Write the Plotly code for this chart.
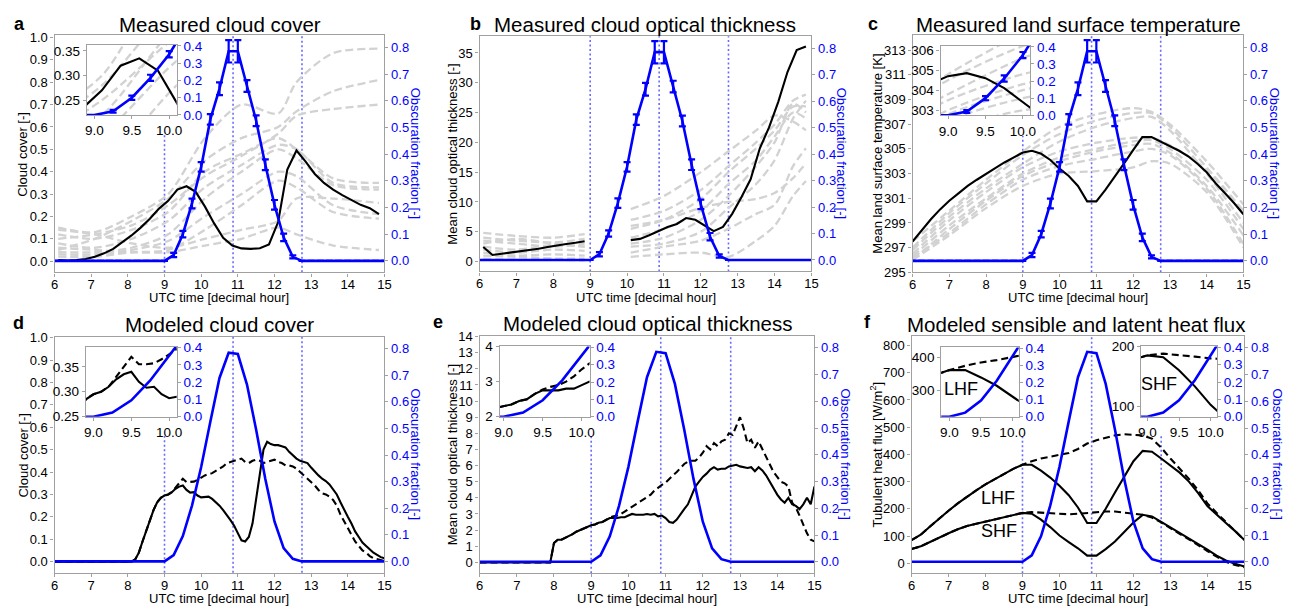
import plotly.graph_objects as go

# ------------------------------------------------------------------ data
eclipse_times = [9.0, 10.87, 12.75]  # first contact, maximum, last contact

obs_time = [6.0, 6.25, 6.5, 6.75, 7.0, 7.25, 7.5, 7.75, 8.0, 8.25, 8.5, 8.75, 9.0,
            9.25, 9.5, 9.75, 10.0, 10.25, 10.5, 10.75, 11.0, 11.25, 11.5, 11.75, 12.0, 12.25, 12.5,
            12.75, 13.0, 13.25, 13.5, 13.75, 14.0, 14.25, 14.5, 14.75, 15.0]
obsc_meas = [0] * 13 + [0.022, 0.1, 0.215, 0.352, 0.53, 0.645, 0.785, 0.785, 0.655, 0.525, 0.36, 0.21, 0.088, 0.015] + [0] * 10
obsc_err = [0] * 13 + [0.008, 0.012, 0.018, 0.018, 0.02, 0.024, 0.042, 0.042, 0.022, 0.02, 0.02, 0.018, 0.014, 0.006] + [0] * 10
obsc_model = [0] * 13 + [0.024, 0.095, 0.21, 0.355, 0.525, 0.69, 0.785, 0.78, 0.665, 0.495, 0.31, 0.15, 0.05, 0.01] + [0] * 10

meas_time = [6.1, 6.35, 6.6, 6.85, 7.1, 7.35, 7.6, 7.85, 8.1, 8.35, 8.6, 8.85,
             9.1, 9.35, 9.6, 9.85, 10.1, 10.35, 10.6, 10.85, 11.1, 11.35, 11.6, 11.85,
             12.1, 12.35, 12.6, 12.85, 13.1, 13.35, 13.6, 13.85, 14.1, 14.35, 14.6, 14.85]
cc_meas = [0.005, 0.003, 0.005, 0.01, 0.02, 0.035, 0.055, 0.085, 0.115, 0.15, 0.19, 0.235,
           0.27, 0.32, 0.335, 0.31, 0.245, 0.17, 0.105, 0.07, 0.057, 0.055, 0.058, 0.075,
           0.175, 0.41, 0.495, 0.445, 0.39, 0.35, 0.32, 0.295, 0.272, 0.252, 0.237, 0.21]
cot_meas = [2.45, 1.1, 1.3, 1.5, 1.7, 1.9, 2.15, 2.45, 2.75, 2.95, 3.15, 3.4,
            None, None, None, None, 3.6, 3.8, 4.4, 5.1, 5.8, 6.3, 7.3, 7.0,
            6.0, 5.1, 5.8, 8.0, 10.8, 13.8, 19.0, 22.5, 26.8, 31.8, 35.5, 36.1]
lst_meas = [297.5, 298.4, 299.3, 300.1, 300.8, 301.4, 302.0, 302.5, 303.0, 303.45, 303.9, 304.3, 304.7,
            304.85, 304.6, 304.1, 303.4, 302.8, 302.0, 300.75, 300.75, 301.7, 302.7, 303.8, 304.9, 305.95, 305.95,
            305.6, 305.25, 304.85, 304.4, 303.8, 303.1, 302.2, 301.4, 300.6, 299.7]

# individual stations / days (grey dashed)
cc_site_time = [6.1, 7.1, 8.1, 9.1, 10.1, 11.1, 12.1, 12.6, 13.6, 14.85]
cc_sites = [
    [0.15, 0.13, 0.20, 0.30, 0.55, 0.70, 0.66, 0.80, 0.93, 0.95],
    [0.05, 0.10, 0.18, 0.28, 0.45, 0.55, 0.60, 0.67, 0.76, 0.81],
    [0.10, 0.12, 0.16, 0.25, 0.38, 0.47, 0.57, 0.65, 0.68, 0.70],
    [0.12, 0.10, 0.14, 0.22, 0.40, 0.48, 0.55, 0.50, 0.37, 0.35],
    [0.08, 0.06, 0.10, 0.18, 0.33, 0.43, 0.52, 0.50, 0.35, 0.33],
    [0.04, 0.04, 0.06, 0.12, 0.28, 0.40, 0.50, 0.46, 0.34, 0.32],
    [0.03, 0.03, 0.05, 0.09, 0.20, 0.30, 0.40, 0.38, 0.25, 0.21],
    [0.02, 0.02, 0.04, 0.05, 0.14, 0.25, 0.36, 0.33, 0.22, 0.19],
    [0.06, 0.05, 0.04, 0.04, 0.07, 0.10, 0.15, 0.12, 0.07, 0.05],
    [0.14, 0.12, 0.08, 0.06, 0.10, 0.14, 0.18, 0.28, 0.28, 0.26],
]
cot_site_time = [6.1, 7.0, 8.0, 8.85, 9.5, 10.1, 11.0, 12.0, 12.75, 13.5, 14.0, 14.5, 14.85]
cot_sites = [
    [4.8, 4.3, 4.0, 4.6, None, 8.8, 11.0, 15.0, 18.5, 22.0, 24.5, 23.5, 22.0],
    [4.0, 3.5, 3.2, 3.8, None, 7.0, 8.5, 12.0, 16.0, 20.0, 23.0, 27.0, 28.0],
    [3.0, 3.8, 3.0, 2.5, None, 5.5, 7.0, 10.5, 15.0, 19.0, 22.0, 26.0, 26.0],
    [2.5, 2.0, 2.8, 2.5, None, 4.0, 5.5, 8.5, 13.0, 17.0, 21.0, 25.0, 24.0],
    [2.0, 1.5, 2.0, 1.8, None, 3.0, 4.0, 7.0, 11.0, 16.0, 20.0, 26.5, 25.0],
    [1.5, 1.0, 1.2, 1.0, None, 2.5, 3.0, 5.0, 9.0, 13.0, 17.0, 24.0, 27.0],
    [1.0, 0.8, 0.5, 0.5, None, 1.5, 2.5, 3.5, 5.5, 8.0, 9.5, 16.0, 19.0],
    [0.5, 0.3, 0.3, 0.2, None, 0.8, 1.2, 1.5, 0.8, 3.5, 6.0, 11.0, 13.5],
    [3.5, 3.0, 2.5, 3.0, None, 6.0, 7.0, 9.0, 10.0, 10.5, 11.5, 14.0, 16.5],
]
lst_site_time = [6.0, 7.0, 8.0, 9.0, 10.0, 11.0, 12.0, 12.5, 13.0, 14.0, 15.0]
lst_sites = [
    [297.5, 300.0, 302.5, 304.8, 306.8, 307.8, 308.3, 308.0, 307.0, 304.0, 300.5],
    [297.0, 299.8, 302.2, 304.5, 306.2, 307.3, 307.9, 307.9, 306.8, 303.5, 300.0],
    [296.8, 299.5, 301.8, 303.8, 305.6, 306.8, 307.5, 307.6, 306.5, 303.0, 299.0],
    [296.5, 299.2, 301.5, 303.5, 304.8, 305.5, 305.9, 305.9, 305.3, 303.3, 299.8],
    [296.3, 298.8, 301.0, 303.0, 304.3, 305.0, 305.6, 305.7, 305.0, 302.5, 298.5],
    [296.0, 298.5, 300.8, 302.8, 304.0, 304.8, 305.3, 305.4, 304.7, 302.0, 298.0],
    [296.2, 298.2, 300.5, 302.5, 303.6, 304.2, 304.8, 305.0, 304.5, 301.8, 297.3],
    [296.0, 298.0, 300.2, 302.0, 303.0, 303.2, 303.5, 304.0, 303.8, 301.5, 297.0],
]

# model output (0.1 h steps)
model_time = [round(6 + 0.1 * i, 1) for i in range(91)]
cc_mod_ecl = [0] * 22 + [0.01, 0.04, 0.09, 0.14, 0.19, 0.23, 0.265, 0.285, 0.295,
    0.30, 0.31, 0.325, 0.335, 0.34, 0.32, 0.308, 0.31, 0.295, 0.287,
    0.29, 0.29, 0.28, 0.265, 0.25, 0.23, 0.21, 0.185, 0.16, 0.125,
    0.095, 0.09, 0.11, 0.17, 0.28, 0.41, 0.5, 0.535, 0.525, 0.52,
    0.52, 0.515, 0.51, 0.49, 0.475, 0.46, 0.45, 0.445, 0.44, 0.42,
    0.4, 0.385, 0.37, 0.36, 0.345, 0.325, 0.3, 0.265, 0.23, 0.2,
    0.17, 0.135, 0.11, 0.085, 0.07, 0.055, 0.04, 0.03, 0.02, 0.015]
cc_mod_ref = [0] * 22 + [0.01, 0.04, 0.09, 0.14, 0.19, 0.23, 0.265, 0.285, 0.295,
    0.30, 0.31, 0.33, 0.35, 0.37, 0.355, 0.355, 0.357, 0.365, 0.375,
    0.385, 0.39, 0.395, 0.405, 0.415, 0.425, 0.44, 0.445, 0.45, 0.455,
    0.46, 0.445, 0.44, 0.45, 0.455, 0.45, 0.44, 0.445, 0.45, 0.455,
    0.445, 0.44, 0.43, 0.43, 0.425, 0.415, 0.4, 0.385, 0.37, 0.355,
    0.34, 0.32, 0.305, 0.3, 0.29, 0.275, 0.25, 0.21, 0.18, 0.15,
    0.12, 0.09, 0.07, 0.05, 0.04, 0.025, 0.015, 0.01, 0.005, 0.003]
cot_mod_ecl = [0] * 20 + [1.2, 1.4, 1.4, 1.5, 1.6, 1.75, 1.9, 2.0, 2.1, 2.25, 2.3,
    2.35, 2.45, 2.5, 2.65, 2.75, 2.75, 2.75, 2.8, 2.8, 2.9,
    3.0, 2.95, 2.95, 2.95, 3.0, 2.95, 3.0, 2.85, 2.9, 2.75,
    2.5, 2.45, 2.65, 3.0, 3.3, 3.6, 4.2, 4.7, 5.0, 5.3,
    5.5, 5.75, 5.9, 5.75, 5.8, 5.8, 5.95, 6.0, 6.05, 5.95,
    5.9, 5.85, 5.9, 5.65, 5.9, 5.7, 5.4, 5.0, 4.6, 4.2,
    3.9, 3.7, 4.0, 3.6, 3.5, 3.3, 3.6, 4.0, 3.6, 4.7]
cot_mod_ref = [0] * 20 + [1.2, 1.4, 1.4, 1.5, 1.6, 1.75, 1.9, 2.0, 2.1, 2.25, 2.3,
    2.35, 2.45, 2.5, 2.65,
    2.78, 2.85, 2.9, 3.0, 3.15, 3.35,
    3.5, 3.65, 3.8, 3.95, 4.05, 4.2, 4.45, 4.65, 4.8, 4.95,
    5.2, 5.4, 5.6, 5.85, 6.1, 6.25, 6.3, 6.3, 6.5, 6.8,
    7.2, 7.0, 7.4, 7.2, 7.5, 7.6, 8.0, 7.9, 8.5, 9.0,
    8.3, 7.4, 7.6, 7.1, 7.5, 7.0, 6.5, 6.0, 5.6, 5.3,
    5.0, 4.9, 4.7, 3.7, 3.4, 2.9, 2.3, 1.8, 1.4, 1.3]
lhf_ecl = [85, 105, 135, 165, 193, 220, 245, 268, 290, 310, 330, 347, 362,
           362, 340, 315, 285, 250, 205, 148, 148, 200, 260, 320, 375, 413, 410,
           385, 360, 333, 300, 258, 210, 178, 148, 118, 85]
lhf_ref = [85, 105, 135, 165, 193, 220, 245, 268, 290, 310, 330, 347, 362,
           375, 385, 392, 400, 405, 420, 440, 452, 462, 470, 474, 472, 470, 458,
           425, 385, 348, 310, 268, 220, 185, 150, 118, 85]
shf_ecl = [52, 62, 78, 95, 110, 125, 137, 145, 153, 162, 170, 178, 185,
           182, 160, 133, 102, 78, 55, 28, 28, 52, 80, 115, 150, 178, 172,
           152, 132, 112, 93, 72, 50, 28, 10, -2, -12]
shf_ref = [52, 62, 78, 95, 110, 125, 137, 145, 153, 162, 170, 178, 185,
           188, 186, 183, 180, 180, 182, 185, 188, 190, 190, 187, 182, 178, 168,
           150, 128, 108, 88, 68, 45, 24, 5, -6, -15]

for arr in (obsc_meas, obsc_err, obsc_model, lst_meas, lhf_ecl, lhf_ref, shf_ecl, shf_ref):
    assert len(arr) == len(obs_time), len(arr)
for arr in (cc_meas, cot_meas):
    assert len(arr) == len(meas_time)
for arr in (cc_mod_ecl, cc_mod_ref, cot_mod_ecl, cot_mod_ref):
    assert len(arr) == len(model_time), len(arr)

# ------------------------------------------------------------------ style
W, H = 1295, 614
FONT = "Liberation Sans, Arial, sans-serif"
SPINE = "#a0a0a0"
BLUE = "#0000ff"
VCOL = "#6a6aff"
GRAY = "#d2d2d2"
RIGHT_RANGE = [-0.043, 0.845]
INSET_RIGHT = [0, 0.405]
XTITLE_Y = {0: 297.5, 1: 606.5}  # pixel row of the x-axis titles (top / bottom row)

fig = go.Figure()
lay = dict(width=W, height=H, margin=dict(l=0, r=0, t=0, b=0),
           paper_bgcolor="white", plot_bgcolor="white", showlegend=False,
           font=dict(family=FONT, color="black"))
annotations = []
shapes = []


def xd(a, b):
    return [a / W, b / W]


def yd(top, bot):
    return [1 - bot / H, 1 - top / H]


def axn(p, n):
    return f"{p}axis" if n == 1 else f"{p}axis{n}"


def ref(p, n):
    return p if n == 1 else f"{p}{n}"


def base_axis(fs=13, color="black", **kw):
    d = dict(showline=True, linecolor=SPINE, linewidth=1.3, ticks="outside", ticklen=3,
             tickwidth=1.2, tickcolor=SPINE, showgrid=False, zeroline=False,
             tickfont=dict(size=fs, color=color, family=FONT), fixedrange=True)
    d.update(kw)
    return d


def gray_lines(xs, sets, xa, ya):
    for s in sets:
        fig.add_trace(go.Scatter(x=xs, y=s, mode="lines", xaxis=xa, yaxis=ya,
                                 line=dict(color=GRAY, width=2.3, dash="8px,4px", shape="spline", smoothing=0.8),
                                 connectgaps=False, hoverinfo="skip"))


def black(xs, ys, xa, ya, dashed=False):
    fig.add_trace(go.Scatter(x=xs, y=ys, mode="lines", xaxis=xa, yaxis=ya,
                             line=dict(color="black", width=2.1, dash="7px,4px" if dashed else "solid"),
                             connectgaps=False, hoverinfo="skip"))


def blue(xa, ya, measured):
    if measured:
        fig.add_trace(go.Scatter(x=obs_time, y=obsc_meas, mode="lines", xaxis=xa, yaxis=ya,
                                 line=dict(color=BLUE, width=2.6),
                                 error_y=dict(type="data", array=obsc_err, color=BLUE, thickness=2.2, width=3.5),
                                 hoverinfo="skip"))
    else:
        fig.add_trace(go.Scatter(x=obs_time, y=obsc_model, mode="lines", xaxis=xa, yaxis=ya,
                                 line=dict(color=BLUE, width=2.6), hoverinfo="skip"))


def vlines(xa, ya, tops):
    for t, top in zip(eclipse_times, tops):
        shapes.append(dict(type="line", xref=xa, yref=f"{ya} domain", x0=t, x1=t, y0=0, y1=top,
                           layer="below", line=dict(color=VCOL, width=1.6, dash="2px,2.5px")))


# ------------------------------------------------------------------ main panels
panels = [
    dict(letter="a", title="Measured cloud cover", box=(50, 383, 29, 272),
         yr=[-0.05, 1.01], tick0=0, dtick=0.1, fmt=".1f", ytitle="Cloud cover [-]",
         lt=(15, 17), tx=217, ty=18, ylx=18, yrx=414, measured=True, vtop=[0.58, 1, 1]),
    dict(letter="b", title="Measured cloud optical thickness", box=(479, 814, 30, 271),
         yr=[-1.65, 37.8], tick0=0, dtick=5, fmt="d", ytitle="Mean cloud optical thickness [-]",
         lt=(475, 17), tx=646, ty=18, ylx=452, yrx=844, measured=True, vtop=[1, 1, 1]),
    dict(letter="c", title="Measured land surface temperature", box=(916, 1250, 29, 272),
         yr=[295, 314.2], tick0=295, dtick=2, fmt="d", ytitle="Mean land surface temperature [K]",
         lt=(876, 17), tx=1084, ty=18, ylx=881, yrx=1281, measured=True, vtop=[0.575, 1, 1]),
    dict(letter="d", title="Modeled cloud cover", box=(50, 383, 338, 580),
         yr=[-0.05, 1.004], tick0=0, dtick=0.1, fmt=".1f", ytitle="Cloud cover [-]",
         lt=(14, 324), tx=217, ty=325, ylx=19, yrx=414, measured=False, vtop=[0.58, 1, 1]),
    dict(letter="e", title="Modeled cloud optical thickness", box=(479, 817, 337, 580.5),
         yr=[-0.68, 14.05], tick0=0, dtick=1, fmt="d", ytitle="Mean cloud optical thickness [-]",
         lt=(437, 323), tx=649, ty=324, ylx=452, yrx=848, measured=False, vtop=[0.58, 1, 1]),
    dict(letter="f", title="Modeled sensible and latent heat flux", box=(915, 1251, 337, 580.5),
         yr=[-37, 836], tick0=0, dtick=100, fmt="d", ytitle="Tubulent heat flux [W/m<sup>2</sup>]",
         lt=(871, 323), tx=1082, ty=325, ylx=879, yrx=1284, measured=False, vtop=[0.58, 1, 0.58]),
]

for i, p in enumerate(panels):
    xn, yl, yrn = i + 1, 2 * i + 1, 2 * i + 2
    xa, ya, ya2 = ref("x", xn), ref("y", yl), ref("y", yrn)
    x0, x1, top, bot = p["box"]
    lay[axn("x", xn)] = base_axis(domain=xd(x0, x1), range=[6, 15], anchor=ya, mirror=True,
                                  tickmode="linear", tick0=6, dtick=1, ticklabelstandoff=-3)
    lay[axn("y", yl)] = base_axis(domain=yd(top, bot), range=p["yr"], anchor=xa, mirror=True,
                                  tickmode="linear", tick0=p["tick0"], dtick=p["dtick"], tickformat=p["fmt"])
    lay[axn("y", yrn)] = base_axis(color=BLUE, overlaying=ya, side="right", anchor=xa, range=RIGHT_RANGE,
                                   showline=False, tickmode="linear", tick0=0, dtick=0.1, tickformat=".1f")

    vlines(xa, ya, p["vtop"])
    if p["letter"] == "a":
        gray_lines(cc_site_time, cc_sites, xa, ya)
        black(meas_time, cc_meas, xa, ya)
    elif p["letter"] == "b":
        gray_lines(cot_site_time, cot_sites, xa, ya)
        black(meas_time, cot_meas, xa, ya)
    elif p["letter"] == "c":
        gray_lines(lst_site_time, lst_sites, xa, ya)
        black(obs_time, lst_meas, xa, ya)
    elif p["letter"] == "d":
        black(model_time, cc_mod_ref, xa, ya, dashed=True)
        black(model_time, cc_mod_ecl, xa, ya)
    elif p["letter"] == "e":
        black(model_time, cot_mod_ref, xa, ya, dashed=True)
        black(model_time, cot_mod_ecl, xa, ya)
    else:
        black(obs_time, lhf_ref, xa, ya, dashed=True)
        black(obs_time, shf_ref, xa, ya, dashed=True)
        black(obs_time, lhf_ecl, xa, ya)
        black(obs_time, shf_ecl, xa, ya)
        annotations.append(dict(x=8.33, y=239, xref=xa, yref=ya, text="LHF", showarrow=False,
                                font=dict(size=18, color="black")))
        annotations.append(dict(x=8.36, y=118, xref=xa, yref=ya, text="SHF", showarrow=False,
                                font=dict(size=18, color="black")))
    blue(xa, ya2, p["measured"])

    cy = (top + bot) / 2
    annotations += [
        dict(x=p["lt"][0] / W, y=1 - p["lt"][1] / H, xref="paper", yref="paper", text=f"<b>{p['letter']}</b>",
             showarrow=False, xanchor="center", yanchor="middle", font=dict(size=18, color="black")),
        dict(x=p["tx"] / W, y=1 - p["ty"] / H, xref="paper", yref="paper", text=p["title"],
             showarrow=False, xanchor="center", yanchor="middle", font=dict(size=20.5, color="black")),
        dict(x=(x0 + x1) / 2 / W, y=1 - XTITLE_Y[i // 3] / H, xref="paper", yref="paper",
             text="UTC time [decimal hour]", showarrow=False, xanchor="center", yanchor="middle",
             font=dict(size=13, color="black")),
        dict(x=p["ylx"] / W, y=1 - cy / H, xref="paper", yref="paper", text=p["ytitle"], textangle=-90,
             showarrow=False, xanchor="center", yanchor="middle", font=dict(size=13, color="black")),
        dict(x=p["yrx"] / W, y=1 - cy / H, xref="paper", yref="paper", text="Obscuration fraction [-]",
             textangle=90, showarrow=False, xanchor="center", yanchor="middle", font=dict(size=13, color=BLUE)),
    ]

# ------------------------------------------------------------------ insets
insets = [
    dict(key="a", box=(82.7, 173.3, 39, 110.7), xr=[8.9, 10.1], yr=[0.22, 0.362],
         yt=[0.25, 0.30, 0.35], ytt=["0.25", "0.30", "0.35"]),
    dict(key="c", box=(944.3, 1035, 40, 111), xr=[8.9, 10.1], yr=[302.75, 306.2],
         yt=[303, 304, 305, 306], ytt=["303", "304", "305", "306"]),
    dict(key="d", box=(81.7, 173.3, 348.3, 420), xr=[8.9, 10.1], yr=[0.25, 0.39],
         yt=[0.25, 0.30, 0.35], ytt=["0.25", "0.30", "0.35"]),
    dict(key="e", box=(499.3, 590, 348, 420), xr=[8.95, 10.1], yr=[2, 4],
         yt=[2, 3, 4], ytt=["2", "3", "4"]),
    dict(key="fL", box=(945, 1023.3, 349, 420), xr=[8.87, 10.1], yr=[222, 430],
         yt=[300, 400], ytt=["300", "400"]),
    dict(key="fS", box=(1146.7, 1223.3, 348, 420), xr=[8.9, 10.1], yr=[82, 200],
         yt=[100, 200], ytt=["100", "200"]),
]

for j, q in enumerate(insets):
    xn, yl, yrn = 7 + j, 13 + 2 * j, 14 + 2 * j
    xa, ya, ya2 = ref("x", xn), ref("y", yl), ref("y", yrn)
    x0, x1, top, bot = q["box"]
    lay[axn("x", xn)] = base_axis(fs=13.5, domain=xd(x0, x1), range=q["xr"], anchor=ya, mirror=True,
                                  tickvals=[9.0, 9.5, 10.0], ticktext=["9.0", "9.5", "10.0"])
    lay[axn("y", yl)] = base_axis(fs=13.5, domain=yd(top, bot), range=q["yr"], anchor=xa, mirror=True,
                                  tickvals=q["yt"], ticktext=q["ytt"])
    lay[axn("y", yrn)] = base_axis(fs=13.5, color=BLUE, overlaying=ya, side="right", anchor=xa,
                                   range=INSET_RIGHT, showline=False, tickvals=[0, 0.1, 0.2, 0.3, 0.4],
                                   ticktext=["0.0", "0.1", "0.2", "0.3", "0.4"])
    k = q["key"]
    if k == "a":
        gray_lines(cc_site_time, cc_sites, xa, ya)
        black(meas_time, cc_meas, xa, ya)
        blue(xa, ya2, True)
    elif k == "c":
        gray_lines(lst_site_time, lst_sites, xa, ya)
        black(obs_time, lst_meas, xa, ya)
        blue(xa, ya2, True)
    elif k == "d":
        black(model_time, cc_mod_ref, xa, ya, dashed=True)
        black(model_time, cc_mod_ecl, xa, ya)
        blue(xa, ya2, False)
    elif k == "e":
        black(model_time, cot_mod_ref, xa, ya, dashed=True)
        black(model_time, cot_mod_ecl, xa, ya)
        blue(xa, ya2, False)
    elif k == "fL":
        black(obs_time, lhf_ref, xa, ya, dashed=True)
        black(obs_time, lhf_ecl, xa, ya)
        blue(xa, ya2, False)
        annotations.append(dict(x=9.18, y=305, xref=xa, yref=ya, text="LHF", showarrow=False,
                                font=dict(size=18, color="black")))
    else:
        black(obs_time, shf_ref, xa, ya, dashed=True)
        black(obs_time, shf_ecl, xa, ya)
        blue(xa, ya2, False)
        annotations.append(dict(x=9.19, y=137, xref=xa, yref=ya, text="SHF", showarrow=False,
                                font=dict(size=18, color="black")))

lay["annotations"] = annotations
lay["shapes"] = shapes
fig.update_layout(**lay)
fig.write_html("out.html")
